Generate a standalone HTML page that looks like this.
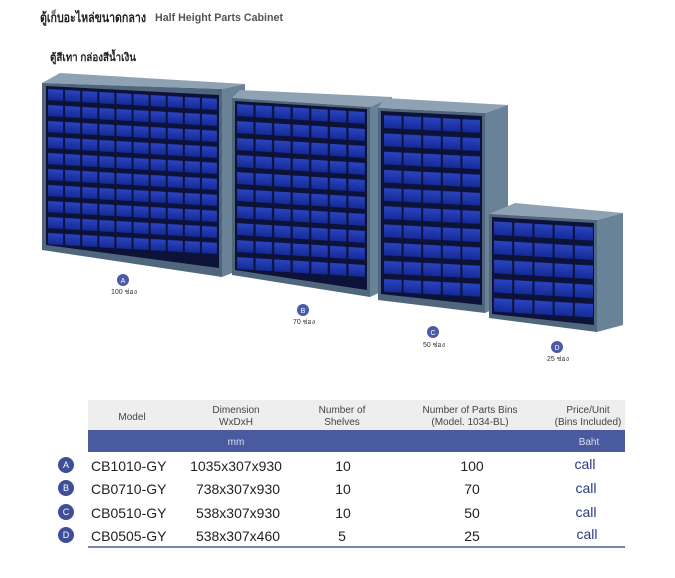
<!DOCTYPE html>
<html><head><meta charset="utf-8">
<style>
html,body{margin:0;padding:0;background:#fff;}
svg{display:block;}
text{font-family:"Liberation Sans","Noto Sans CJK SC",sans-serif;}
</style></head>
<body>
<svg width="675" height="578" viewBox="0 0 675 578" xmlns="http://www.w3.org/2000/svg">
<defs>
  <linearGradient id="dr" x1="0" y1="0" x2="0" y2="1">
    <stop offset="0" stop-color="#2a44c0"/>
    <stop offset="1" stop-color="#142a96"/>
  </linearGradient>
  <pattern id="g10" width="0.1" height="0.1" patternUnits="objectBoundingBox" patternContentUnits="objectBoundingBox">
    <rect x="0.006" y="0.012" width="0.088" height="0.07" fill="url(#dr)"/>
  </pattern>
  <pattern id="g7" width="0.142857" height="0.1" patternUnits="objectBoundingBox" patternContentUnits="objectBoundingBox">
    <rect x="0.008" y="0.012" width="0.126" height="0.07" fill="url(#dr)"/>
  </pattern>
  <pattern id="g5x10" width="0.2" height="0.1" patternUnits="objectBoundingBox" patternContentUnits="objectBoundingBox">
    <rect x="0.01" y="0.012" width="0.18" height="0.07" fill="url(#dr)"/>
  </pattern>
  <pattern id="g5x5" width="0.2" height="0.2" patternUnits="objectBoundingBox" patternContentUnits="objectBoundingBox">
    <rect x="0.01" y="0.024" width="0.18" height="0.14" fill="url(#dr)"/>
  </pattern>
</defs>

<!-- titles -->
<text x="40" y="22" font-size="13" font-weight="bold" fill="#222" textLength="106" lengthAdjust="spacingAndGlyphs">ตู้เก็บอะไหล่ขนาดกลาง</text>
<text x="155" y="21" font-size="11" font-weight="bold" fill="#555" textLength="128" lengthAdjust="spacingAndGlyphs">Half Height Parts Cabinet</text>
<text x="50" y="61" font-size="11" font-weight="bold" fill="#222" textLength="86" lengthAdjust="spacingAndGlyphs">ตู้สีเทา กล่องสีน้ำเงิน</text>

<!-- Cabinet A -->
<polygon points="42,83 60,73 245,84 222,89" fill="#8fa2b4"/>
<polygon points="222,89 245,84 245,268 222,277" fill="#6a8298"/>
<polygon points="42,83 222,89 222,277 42,250" fill="#4f667c"/>
<polygon points="46,86 219,95 219,268 46,245" fill="#0c1238"/>
<g transform="matrix(171,10,0,160,47,87)">
  <rect x="0" y="0" width="1" height="1" fill="url(#g10)"/>
</g>

<!-- Cabinet B -->
<polygon points="232,98 240,90 392,97 370,107" fill="#8fa2b4"/>
<polygon points="370,107 392,97 392,287 370,297" fill="#6a8298"/>
<polygon points="232,98 370,107 370,297 232,275" fill="#4f667c"/>
<polygon points="235,101 367,109 367,290 235,270" fill="#0c1238"/>
<g transform="matrix(130,8,0,170,236,102)">
  <rect x="0" y="0" width="1" height="1" fill="url(#g7)"/>
</g>

<!-- Cabinet C -->
<polygon points="378,108 385,98 508,105 485,113" fill="#8fa2b4"/>
<polygon points="485,113 508,105 508,303 485,313" fill="#6a8298"/>
<polygon points="378,108 485,113 485,313 378,300" fill="#4f667c"/>
<polygon points="381,111 482,116 482,305 381,294" fill="#0c1238"/>
<g transform="matrix(98,5,0,182,383,113)">
  <rect x="0" y="0" width="1" height="1" fill="url(#g5x10)"/>
</g>

<!-- Cabinet D -->
<polygon points="489,214 515,203 623,213 597,220" fill="#8fa2b4"/>
<polygon points="597,220 623,213 623,325 597,332" fill="#6a8298"/>
<polygon points="489,214 597,220 597,332 489,318" fill="#4f667c"/>
<polygon points="492,217 594,223 594,325 492,314" fill="#0c1238"/>
<g transform="matrix(101,6,0,96,493,219)">
  <rect x="0" y="0" width="1" height="1" fill="url(#g5x5)"/>
</g>

<!-- cabinet labels -->
<g font-size="7" fill="#fff" text-anchor="middle">
  <circle cx="123" cy="280" r="6" fill="#4a5aa8"/><text x="123" y="283">A</text>
  <circle cx="303" cy="310" r="6" fill="#4a5aa8"/><text x="303" y="313">B</text>
  <circle cx="433" cy="332" r="6" fill="#4a5aa8"/><text x="433" y="335">C</text>
  <circle cx="557" cy="347" r="6" fill="#4a5aa8"/><text x="557" y="350">D</text>
</g>
<g font-size="7" fill="#333" text-anchor="middle">
  <text x="124" y="294">100 ช่อง</text>
  <text x="304" y="324">70 ช่อง</text>
  <text x="434" y="347">50 ช่อง</text>
  <text x="558" y="361">25 ช่อง</text>
</g>

<!-- table -->
<rect x="88" y="400" width="537" height="30" fill="#eeeeee"/>
<rect x="88" y="430" width="537" height="22" fill="#4a5a9e"/>
<g font-size="10" fill="#444" text-anchor="middle">
  <text x="132" y="420">Model</text>
  <text x="236" y="413">Dimension</text>
  <text x="236" y="425">WxDxH</text>
  <text x="342" y="413">Number of</text>
  <text x="342" y="425">Shelves</text>
  <text x="470" y="413">Number of Parts Bins</text>
  <text x="470" y="425">(Model. 1034-BL)</text>
  <text x="588" y="413">Price/Unit</text>
  <text x="588" y="425">(Bins Included)</text>
</g>
<g font-size="10" fill="#dde" text-anchor="middle">
  <text x="236" y="445">mm</text>
  <text x="589" y="445">Baht</text>
</g>

<g font-size="9" fill="#fff" text-anchor="middle">
  <circle cx="66" cy="465" r="8" fill="#3e4f98"/><text x="66" y="468">A</text>
  <circle cx="66" cy="488" r="8" fill="#3e4f98"/><text x="66" y="491">B</text>
  <circle cx="66" cy="512" r="8" fill="#3e4f98"/><text x="66" y="515">C</text>
  <circle cx="66" cy="535" r="8" fill="#3e4f98"/><text x="66" y="538">D</text>
</g>
<g font-size="14" fill="#222">
  <text x="91" y="471">CB1010-GY</text>
  <text x="91" y="494">CB0710-GY</text>
  <text x="91" y="518">CB0510-GY</text>
  <text x="91" y="541">CB0505-GY</text>
</g>
<g font-size="14" fill="#222" text-anchor="middle">
  <text x="236" y="471">1035x307x930</text>
  <text x="238" y="494">738x307x930</text>
  <text x="238" y="518">538x307x930</text>
  <text x="238" y="541">538x307x460</text>
  <text x="343" y="471">10</text>
  <text x="343" y="494">10</text>
  <text x="343" y="518">10</text>
  <text x="342" y="541">5</text>
  <text x="472" y="471">100</text>
  <text x="472" y="494">70</text>
  <text x="472" y="518">50</text>
  <text x="472" y="541">25</text>
</g>
<g font-size="14" fill="#2a3a80" text-anchor="middle">
  <text x="585" y="469">call</text>
  <text x="586" y="493">call</text>
  <text x="586" y="517">call</text>
  <text x="587" y="539">call</text>
</g>
<rect x="88" y="546" width="537" height="2" fill="#7a84a8"/>
</svg>
</body></html>
